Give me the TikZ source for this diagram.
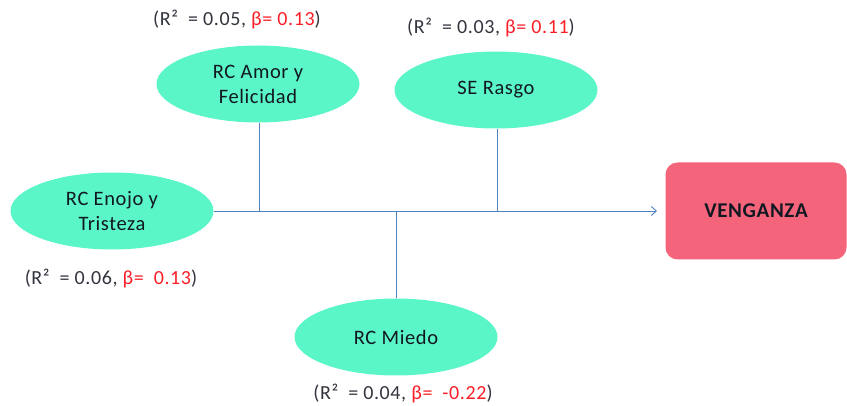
\documentclass[tikz,border=0pt]{standalone}
\usepackage{fontspec}
\setmainfont{Carlito}
\newfontfamily\lblfont{Carlito}[LetterSpace=3]
\usetikzlibrary{shapes.geometric,arrows.meta}
\definecolor{ellfill}{RGB}{90,246,200}
\definecolor{vengfill}{RGB}{244,100,122}
\definecolor{linec}{RGB}{79,129,189}
\definecolor{txtc}{RGB}{18,24,34}
\definecolor{statc}{RGB}{50,52,62}
\definecolor{betac}{RGB}{250,30,40}
\tikzset{
  factor/.style={ellipse, fill=ellfill, draw=none, minimum width=203pt, minimum height=77pt, inner sep=0pt, align=center, text=txtc, font=\lblfont\fontsize{20.5}{25}\selectfont},
  outcome/.style={rectangle, rounded corners=12pt, fill=vengfill, draw=none, minimum width=181pt, minimum height=97pt, text=txtc, font=\lblfont\fontsize{21}{25}\selectfont\bfseries},
  stat/.style={text=statc, font=\lblfont\fontsize{20}{24}\selectfont, inner sep=0pt},
  conn/.style={draw=linec, line width=0.9pt},
}
\newcommand{\bet}[1]{\textcolor{betac}{#1}}
\begin{document}
\begin{tikzpicture}[x=1pt,y=-1pt]
\useasboundingbox (0,0) rectangle (847,406);
\node[factor] (amor) at (258,84) {RC Amor y\\Felicidad};
\node[factor] (rasgo) at (496,90) {SE Rasgo};
\node[factor] (enojo) at (112,211) {RC Enojo y\\Tristeza};
\node[factor] (miedo) at (396,337) {RC Miedo};
\node[outcome] (veng) at (756,211) {VENGANZA};
\coordinate (j1) at (259,211);
\coordinate (j2) at (497,211);
\coordinate (j3) at (396,211);
\coordinate (tip) at (657,211);
\draw[conn, -{Straight Barb[length=5pt,width=9pt]}] (enojo.east) -- (tip);
\draw[conn] (amor.south -| j1) -- (j1);
\draw[conn] (rasgo.south -| j2) -- (j2);
\draw[conn] (j3) -- (miedo.north -| j3);
\node[stat] (s1) at (237,20) {(R²\enspace= 0.05, \bet{β= 0.13})};
\node[stat] (s2) at (491,28) {(R²\enspace= 0.03, \bet{β= 0.11})};
\node[stat] (s3) at (111,279) {(R²\enspace= 0.06, \bet{β=\enspace0.13})};
\node[stat] (s4) at (403,394) {(R²\enspace= 0.04, \bet{β=\enspace-0.22})};
\end{tikzpicture}
\end{document}
